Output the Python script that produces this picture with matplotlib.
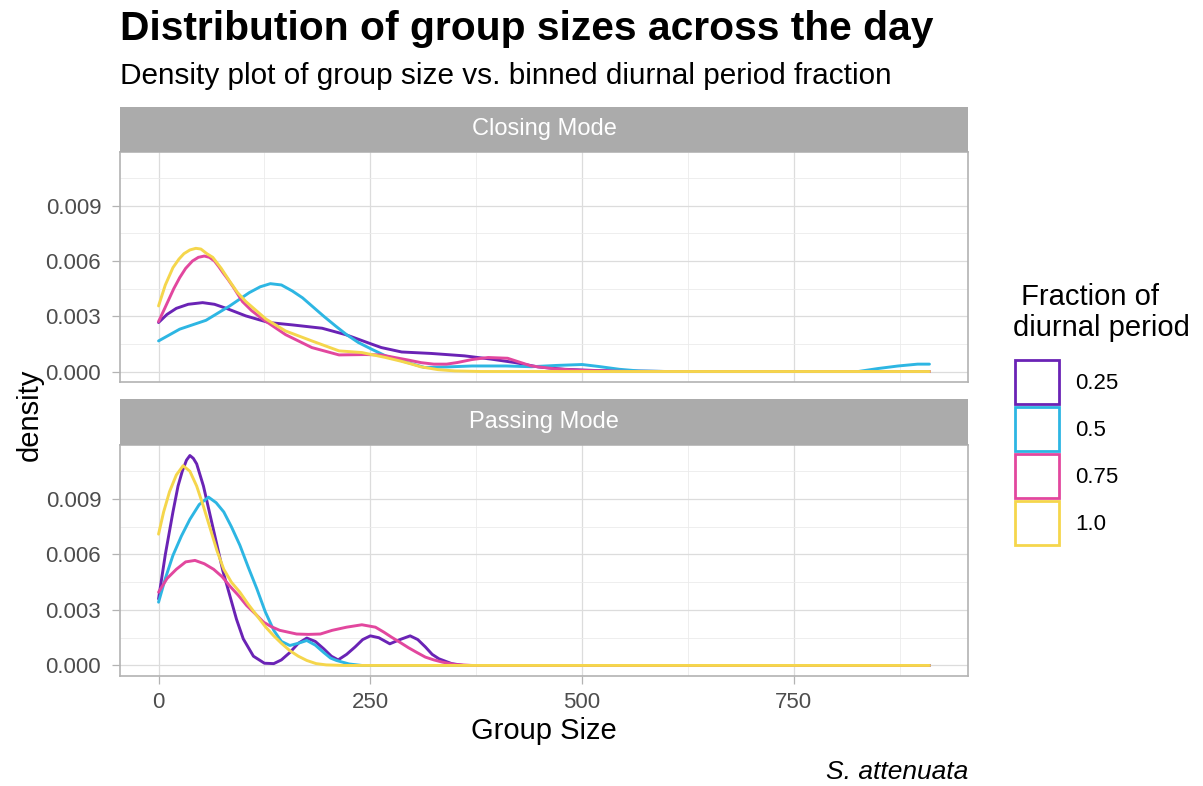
import matplotlib
matplotlib.use("Agg")
import matplotlib.pyplot as plt
from matplotlib.patches import Patch
from matplotlib.ticker import FixedLocator, FormatStrFormatter

plt.rcParams['font.family'] = ['Liberation Sans', 'DejaVu Sans']

# series labels and colours
fractions = ["0.25", "0.5", "0.75", "1.0"]
colors = ["#6A23B5", "#2DB6E3", "#E2479E", "#F5D64C"]
facets = ["Closing Mode", "Passing Mode"]

# Closing Mode densities
close_025_x = [0, 10, 21, 35, 52, 66, 80, 103, 130, 158, 193, 221, 252, 263, 287, 322, 361, 393, 420, 448, 479,
               518, 600, 910]
close_025_y = [0.00266, 0.0031, 0.00343, 0.00365, 0.00374, 0.00365, 0.00343, 0.00302, 0.00266, 0.00253, 0.00235,
               0.00200, 0.00148, 0.0013, 0.00106, 0.00098, 0.00085, 0.00067, 0.00049, 0.00025, 0.00012, 0.00005,
               0.0, 0.0]

close_05_x = [0, 25, 56, 84, 107, 120, 132, 145, 158, 170, 181, 195, 209, 222, 236, 252, 268, 287, 314, 341, 370,
              410, 440, 470, 500, 520, 544, 567, 600, 826, 849, 873, 896, 910]
close_05_y = [0.00166, 0.0023, 0.00278, 0.00356, 0.00428, 0.0046, 0.00477, 0.0047, 0.00437, 0.0040, 0.00356,
              0.003, 0.00247, 0.002, 0.00157, 0.0012, 0.00085, 0.00058, 0.00022, 0.00025, 0.0003, 0.0003, 0.00026,
              0.00033, 0.00038, 0.00027, 0.00012, 0.00003, 0.0, 0.0, 0.00016, 0.0003, 0.0004, 0.0004]

close_075_x = [0, 6, 12, 18, 25, 32, 40, 47, 54, 60, 66, 71, 76, 82, 88, 99, 110, 123, 150, 181, 213, 244, 263,
               280, 295, 310, 325, 340, 353, 370, 389, 412, 440, 467, 498, 560, 910]
close_075_y = [0.00271, 0.0033, 0.0039, 0.0045, 0.0051, 0.0056, 0.0060, 0.0062, 0.00627, 0.0062, 0.0060, 0.0057,
               0.00537, 0.0050, 0.0046, 0.0038, 0.0033, 0.00284, 0.0020, 0.0013, 0.0009, 0.00092, 0.0009,
               0.00075, 0.00062, 0.00048, 0.0004, 0.0004, 0.00049, 0.00065, 0.00076, 0.00072, 0.0003, 0.00015,
               0.00006, 0.0, 0.0]

close_1_x = [0, 8, 17, 24, 30, 37, 44, 50, 57, 64, 74, 84, 93, 103, 127, 150, 181, 213, 240, 268, 287, 299, 310,
             330, 350, 380, 910]
close_1_y = [0.00356, 0.0047, 0.00564, 0.0061, 0.0064, 0.0066, 0.00669, 0.00665, 0.0064, 0.0062, 0.0056, 0.0049,
             0.0043, 0.0038, 0.00284, 0.0022, 0.00166, 0.00112, 0.00103, 0.00076, 0.00055, 0.0004, 0.00025,
             0.0001, 0.00003, 0.0, 0.0]

# Passing Mode densities
pass_025_x = [0, 8, 17, 23, 28, 33, 37, 41, 45, 53, 61, 69, 76, 84, 92, 100, 112, 125, 136, 145, 155, 165, 175,
              185, 195, 204, 212, 222, 232, 241, 250, 260, 273, 285, 297, 306, 315, 323, 331, 346, 360, 910]
pass_025_y = [0.0036, 0.006, 0.0083, 0.0097, 0.0105, 0.0111, 0.01135, 0.0112, 0.0109, 0.0097, 0.0081, 0.0065,
              0.0051, 0.0038, 0.0025, 0.00144, 0.0005, 0.00012, 0.0001, 0.0003, 0.0007, 0.0012, 0.00148, 0.0013,
              0.0009, 0.0005, 0.0003, 0.0006, 0.001, 0.0014, 0.0016, 0.0015, 0.00117, 0.0014, 0.0016, 0.0014,
              0.001, 0.0006, 0.00036, 0.0001, 0.0, 0.0]

pass_05_x = [0, 8, 17, 27, 37, 48, 59, 68, 77, 86, 96, 106, 116, 126, 136, 145, 155, 165, 175, 185, 195, 203, 210,
             225, 240, 910]
pass_05_y = [0.00342, 0.0047, 0.00595, 0.0070, 0.0079, 0.0087, 0.0091, 0.0088, 0.0083, 0.0075, 0.0065, 0.0053,
             0.00415, 0.0029, 0.0019, 0.0013, 0.00108, 0.0012, 0.00135, 0.0011, 0.0007, 0.0004, 0.00027, 0.00008,
             0.0, 0.0]

pass_075_x = [0, 10, 21, 32, 43, 54, 65, 75, 84, 94, 104, 114, 124, 133, 143, 153, 163, 177, 191, 205, 222, 240,
              256, 266, 275, 285, 295, 305, 315, 325, 335, 350, 370, 910]
pass_075_y = [0.00396, 0.0047, 0.0052, 0.0056, 0.00568, 0.0055, 0.0052, 0.0048, 0.0043, 0.0038, 0.00324, 0.0028,
              0.00234, 0.0021, 0.0019, 0.0018, 0.0017, 0.00168, 0.0017, 0.0019, 0.00207, 0.0022, 0.00207, 0.0018,
              0.00153, 0.00125, 0.00096, 0.0007, 0.00045, 0.0003, 0.00018, 0.00005, 0.0, 0.0]

pass_1_x = [0, 6, 13, 21, 29, 37, 45, 53, 61, 69, 77, 86, 96, 106, 116, 126, 136, 145, 155, 165, 175, 186, 198,
            220, 910]
pass_1_y = [0.0071, 0.0083, 0.0094, 0.0103, 0.0108, 0.0105, 0.0097, 0.0086, 0.0074, 0.0062, 0.0052, 0.0045,
            0.00396, 0.0033, 0.0027, 0.0021, 0.0016, 0.0012, 0.0008, 0.0005, 0.00027, 0.0001, 0.00003, 0.0, 0.0]

panel_data = [
    [(close_025_x, close_025_y), (close_05_x, close_05_y), (close_075_x, close_075_y), (close_1_x, close_1_y)],
    [(pass_025_x, pass_025_y), (pass_05_x, pass_05_y), (pass_075_x, pass_075_y), (pass_1_x, pass_1_y)],
]

W, H = 1203, 786
fig = plt.figure(figsize=(W / 100, H / 100), dpi=100)


def box(left, top, right, bottom):
    return [left / W, 1 - bottom / H, (right - left) / W, (bottom - top) / H]


panel_boxes = [(120, 152, 968, 382), (120, 445, 968, 676)]
strip_boxes = [(120, 107, 968, 152), (120, 399, 968, 445)]

grey70 = "#B3B3B3"
for i, (facet, series) in enumerate(zip(facets, panel_data)):
    ax = fig.add_axes(box(*panel_boxes[i]))
    for (xs, ys), c in zip(series, colors):
        ax.plot(xs, ys, color=c, lw=2.1, solid_capstyle="round", solid_joinstyle="round")
    ax.set_xlim(-45.5, 955.5)
    ax.set_ylim(-0.00057, 0.01192)
    ax.xaxis.set_major_locator(FixedLocator([0, 250, 500, 750]))
    ax.xaxis.set_minor_locator(FixedLocator([125, 375, 625, 875]))
    ax.yaxis.set_major_locator(FixedLocator([0, 0.003, 0.006, 0.009]))
    ax.yaxis.set_minor_locator(FixedLocator([0.0015, 0.0045, 0.0075, 0.0105]))
    ax.yaxis.set_major_formatter(FormatStrFormatter("%.3f"))
    ax.grid(which="major", color="#DCDCDC", lw=0.9)
    ax.grid(which="minor", color="#EBEBEB", lw=0.6)
    ax.set_axisbelow(True)
    for sp in ax.spines.values():
        sp.set_color(grey70)
        sp.set_linewidth(1.2)
    ax.tick_params(which="major", length=5.5, width=0.9, color=grey70, labelsize=16, labelcolor="#4D4D4D", pad=6)
    ax.tick_params(axis="y", which="major", pad=8)
    ax.tick_params(which="minor", length=0)
    if i == 0:
        ax.tick_params(axis="x", which="major", length=0, labelbottom=False)

    sax = fig.add_axes(box(*strip_boxes[i]))
    sax.set_facecolor("#ABABAB")
    sax.set_xticks([])
    sax.set_yticks([])
    for sp in sax.spines.values():
        sp.set_visible(False)
    sax.text(0.5, 0.5, facet, color="white", fontsize=17, ha="center", va="center", transform=sax.transAxes)

fig.text(120 / W, 1 - 40 / H, "Distribution of group sizes across the day", fontsize=29.3, fontweight="bold",
         ha="left", va="baseline")
fig.text(120 / W, 1 - 84 / H, "Density plot of group size vs. binned diurnal period fraction", fontsize=21.4,
         ha="left", va="baseline")
fig.text(544 / W, 1 - 731 / H, "Group Size", fontsize=21, ha="center", va="center")
fig.text(30 / W, 1 - 415 / H, "density", fontsize=21, rotation=90, ha="center", va="center")
fig.text(968 / W, 1 - 772 / H, "S. attenuata", fontsize=19, style="italic", ha="right", va="center")

# legend title and keys
fig.text(1013 / W, 1 - 297 / H, " Fraction of", fontsize=21, ha="left", va="center")
fig.text(1013 / W, 1 - 328 / H, "diurnal period", fontsize=21, ha="left", va="center")
handles = [Patch(facecolor="white", edgecolor=c, lw=2.0, label=f) for f, c in zip(fractions, colors)]
leg = fig.legend(handles=handles, loc="upper left", bbox_to_anchor=(1015 / W, 1 - 360 / H), frameon=False,
                 fontsize=16, handlelength=1.98, handleheight=2.67, labelspacing=0.14, handletextpad=0.72,
                 borderpad=0, borderaxespad=0)

fig.savefig("out.png", dpi=100)
